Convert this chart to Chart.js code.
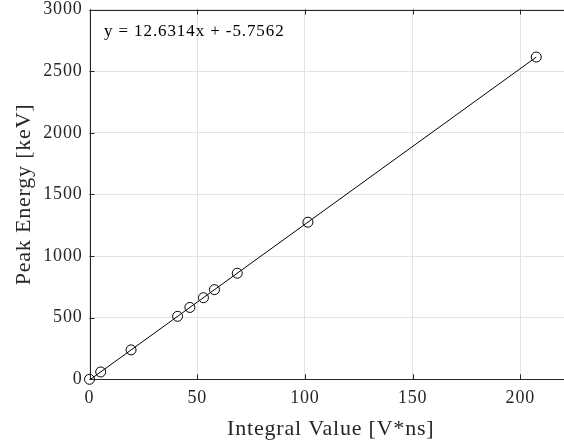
<!DOCTYPE html>
<html>
<head>
<meta charset="utf-8">
<script src="https://cdn.jsdelivr.net/npm/chart.js@4/dist/chart.umd.min.js"></script>
<style>
  html, body { margin: 0; padding: 0; background: #ffffff; }
  #wrap { width: 564px; height: 442px; position: relative; overflow: hidden; }
</style>
</head>
<body>
<div id="wrap"><canvas id="c" width="572" height="442"></canvas></div>
<script>
// ---- data ----
const integralValues = [0, 5.2, 19.3, 40.9, 46.6, 52.9, 58.0, 68.6, 101.4, 207.4];
const peakEnergies   = [0, 59.5, 238.6, 511, 583, 661.7, 727.3, 860.6, 1274.5, 2614.5];
const fitSlope = 12.6314;
const fitIntercept = -5.7562;
const fitLabel = 'y = 12.6314x + -5.7562';
const xTicks = [0, 50, 100, 150, 200];
const yTicks = [0, 500, 1000, 1500, 2000, 2500, 3000];
const xTitle = 'Integral Value [V*ns]';
const yTitle = 'Peak Energy [keV]';

const FONT = "'Liberation Serif', 'Times New Roman', serif";
const AX = '#262626';

const points = integralValues.map((x, i) => ({ x: x, y: peakEnergies[i] }));
const xMin = Math.min(...integralValues), xMax = Math.max(...integralValues);
const fitLine = [xMin, xMax].map(x => ({ x: x, y: fitSlope * x + fitIntercept }));

const spacingPlugin = {
  id: 'spacing',
  beforeUpdate(chart) { chart.ctx.letterSpacing = '0.8px'; },
  beforeLayout(chart) { chart.ctx.letterSpacing = '0.8px'; },
  beforeDraw(chart) { chart.ctx.letterSpacing = '0.8px'; }
};

const boxPlugin = {
  id: 'box',
  beforeDatasetsDraw(chart) {
    const { ctx, chartArea: a, scales } = chart;
    ctx.save();
    ctx.strokeStyle = AX;
    ctx.lineWidth = 1;
    ctx.beginPath();
    ctx.moveTo(Math.round(a.left) + 0.5, a.top);
    ctx.lineTo(Math.round(a.left) + 0.5, a.bottom);
    ctx.moveTo(a.left, Math.round(a.bottom) + 0.5);
    ctx.lineTo(a.right, Math.round(a.bottom) + 0.5);
    ctx.moveTo(a.left, Math.round(a.top) + 0.5);
    ctx.lineTo(a.right, Math.round(a.top) + 0.5);
    const tl = 5;
    xTicks.forEach(v => {
      const px = Math.round(scales.x.getPixelForValue(v)) + 0.5;
      ctx.moveTo(px, a.bottom); ctx.lineTo(px, a.bottom - tl);
      ctx.moveTo(px, a.top); ctx.lineTo(px, a.top + tl);
    });
    yTicks.forEach(v => {
      const py = Math.round(scales.y.getPixelForValue(v)) + 0.5;
      ctx.moveTo(a.left, py); ctx.lineTo(a.left + tl, py);
    });
    ctx.stroke();
    // fit equation
    ctx.fillStyle = '#000';
    ctx.font = "17px " + FONT;
    ctx.letterSpacing = '0.9px';
    ctx.textAlign = 'left';
    ctx.textBaseline = 'middle';
    ctx.fillText(fitLabel, scales.x.getPixelForValue(6.7), scales.y.getPixelForValue(2820));
    ctx.restore();
  }
};

new Chart(document.getElementById('c'), {
  type: 'scatter',
  data: {
    datasets: [
      {
        type: 'line',
        data: fitLine,
        borderColor: '#000',
        borderWidth: 1,
        pointRadius: 0,
        fill: false,
        order: 2
      },
      {
        data: points,
        borderColor: '#000',
        backgroundColor: 'rgba(0,0,0,0)',
        borderWidth: 1,
        pointRadius: 5,
        pointStyle: 'circle',
        clip: false,
        order: 1
      }
    ]
  },
  options: {
    responsive: false,
    animation: false,
    devicePixelRatio: 1,
    plugins: { legend: { display: false }, tooltip: { enabled: false } },
    layout: { autoPadding: false, padding: { top: 9.5, right: 0, left: 0, bottom: 0 } },
    scales: {
      x: {
        type: 'linear',
        min: 0, max: 224,
        afterBuildTicks: s => { s.ticks = xTicks.map(v => ({ value: v })); },
        afterFit: s => { s.height = 62.7; s.paddingLeft = 0; s.paddingRight = 0; },
        grid: { color: '#e3e3e3', drawTicks: false, lineWidth: 1 },
        border: { display: false },
        ticks: { color: AX, font: { family: FONT, size: 18 }, padding: 8, maxRotation: 0,
                 callback: v => String(v) },
        title: { display: true, text: xTitle, color: AX, font: { family: FONT, size: 22 }, padding: { top: 3, bottom: 0 } }
      },
      y: {
        type: 'linear',
        min: 0, max: 3000,
        afterBuildTicks: s => { s.ticks = yTicks.map(v => ({ value: v })); },
        afterFit: s => { s.width = 89.5; s.paddingTop = 0; s.paddingBottom = 0; },
        grid: { color: '#e3e3e3', drawTicks: false, lineWidth: 1 },
        border: { display: false },
        ticks: { color: AX, font: { family: FONT, size: 18 }, padding: 7,
                 callback: v => String(v) },
        title: { display: true, text: yTitle, color: AX, font: { family: FONT, size: 22 }, padding: { top: 11, bottom: 0 } }
      }
    }
  },
  plugins: [spacingPlugin, boxPlugin]
});
</script>
</body>
</html>
